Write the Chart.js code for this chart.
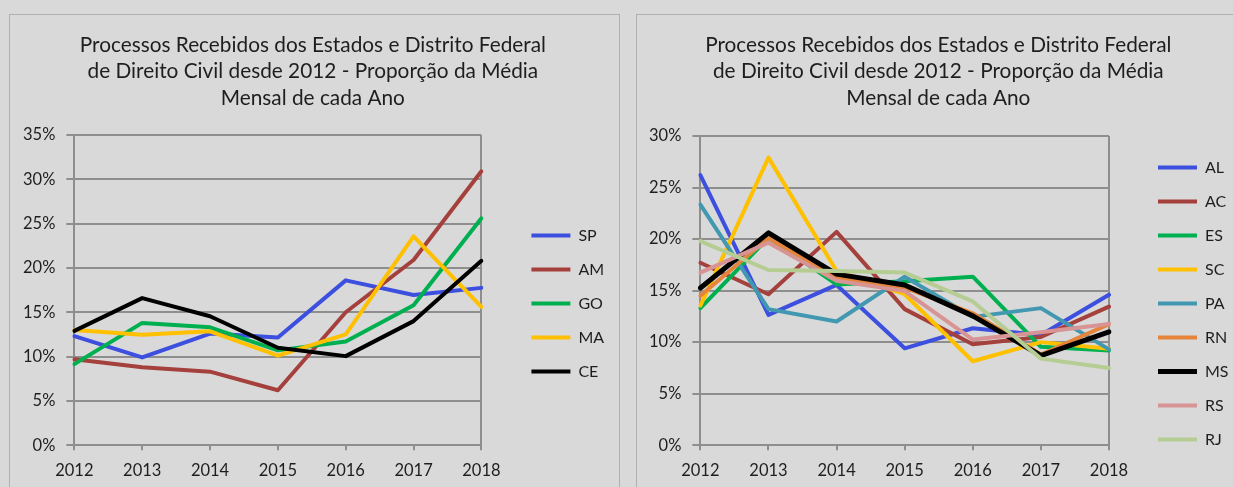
<!DOCTYPE html>
<html>
<head>
<meta charset="utf-8">
<title>Processos Recebidos - Direito Civil</title>
<script src="https://cdn.jsdelivr.net/npm/chart.js"></script>
<style>
    body {
        margin: 0;
        width: 1233px;
        height: 487px;
        overflow: hidden;
        background: #d9d9d9;
        position: relative;
    }
    .panel {
        position: absolute;
        top: 14px;
        width: 609px;
        height: 480px;
        border: 1px solid #b0b0b0;
    }
    #leftPanel { left: 9px; }
    #rightPanel { left: 636px; }
    canvas { display: block; }
</style>
</head>
<body>
<div class="panel" id="leftPanel"><canvas id="leftChart" width="609" height="477"></canvas></div>
<div class="panel" id="rightPanel"><canvas id="rightChart" width="609" height="477"></canvas></div>

<script>
    const years = ['2012', '2013', '2014', '2015', '2016', '2017', '2018'];
    const titleLines = [
        'Processos Recebidos dos Estados e Distrito Federal',
        'de Direito Civil desde 2012 - Proporção da Média',
        'Mensal de cada Ano'
    ];

    // left chart (values in %)
    const leftNames = ['SP', 'AM', 'GO', 'MA', 'CE'];
    const sp = [12.3, 9.9, 12.6, 12.15, 18.6, 16.95, 17.75];
    const am = [9.7, 8.8, 8.3, 6.2, 15.0, 20.9, 30.9];
    const go = [9.15, 13.8, 13.3, 10.7, 11.7, 15.8, 25.6];
    const ma = [13.0, 12.45, 12.85, 10.1, 12.5, 23.55, 15.6];
    const ce = [12.9, 16.6, 14.55, 11.0, 10.05, 14.0, 20.8];

    // right chart (values in %)
    const rightNames = ['AL', 'AC', 'ES', 'SC', 'PA', 'RN', 'MS', 'RS', 'RJ'];
    const al = [26.2, 12.65, 15.55, 9.4, 11.35, 10.7, 14.6];
    const ac = [17.7, 14.65, 20.7, 13.2, 9.8, 10.5, 13.45];
    const es = [13.3, 20.15, 15.6, 15.9, 16.35, 9.55, 9.2];
    const sc = [13.55, 27.9, 16.9, 14.65, 8.15, 10.0, 9.35];
    const pa = [23.35, 13.2, 12.0, 16.35, 12.45, 13.3, 9.3];
    const rn = [14.5, 20.1, 16.3, 15.3, 12.8, 8.8, 11.75];
    const ms = [15.25, 20.6, 16.6, 15.55, 12.55, 8.7, 11.0];
    const rs = [16.75, 19.65, 15.95, 14.95, 10.25, 10.95, 11.75];
    const rj = [19.8, 17.0, 16.9, 16.75, 13.95, 8.4, 7.5];

    const leftColors = ['#3c4fdf', '#a5413d', '#00b050', '#ffc000', '#000000'];
    const rightColors = ['#3c4fdf', '#a5413d', '#00b050', '#ffc000', '#4298b0',
                         '#e5853b', '#000000', '#d89494', '#b5cd93'];

    const fontFamily = 'Lato, "Open Sans", sans-serif';
    const textColor = '#1e1e1e';
    const gridColor = '#8e8e8e';
    const legendFontSize = 16;
    const tickFontSize = 16.5;

    // width of the widest legend label, used to keep the legend at the same x
    function maxTextWidth(names) {
        const c = document.createElement('canvas').getContext('2d');
        c.font = legendFontSize + 'px ' + fontFamily;
        return Math.max(...names.map(n => c.measureText(n).width));
    }

    function makeChart(canvasId, names, series, colors, yMax, opts) {
        const datasets = series.map((values, i) => ({
            label: names[i],
            data: values,
            borderColor: colors[i],
            backgroundColor: colors[i],
            borderWidth: (opts.thick && opts.thick === names[i]) ? 5 : 4,
            borderCapStyle: 'round',
            borderJoinStyle: 'round',
            pointRadius: 0,
            tension: 0,
            fill: false,
            order: -i   // later series on top, like the original
        }));

        const legendWidth = 18 + 39 + legendFontSize / 2 + maxTextWidth(names) + 8;
        const padRight = Math.max(0, 609 - 505 - legendWidth);

        return new Chart(document.getElementById(canvasId), {
            type: 'line',
            data: { labels: years, datasets: datasets },
            options: {
                responsive: false,
                animation: false,
                layout: { padding: { left: opts.padLeft, right: padRight, top: 0, bottom: 0 } },
                plugins: {
                    title: {
                        display: true,
                        text: titleLines,
                        color: textColor,
                        font: { family: fontFamily, size: 20.8, weight: 'normal', lineHeight: 1.274 },
                        padding: { top: 17, bottom: opts.titleBottom }
                    },
                    legend: {
                        position: 'right',
                        align: 'center',
                        title: {
                            display: true,
                            text: '',
                            font: { size: 10, lineHeight: 1.2 },
                            padding: { top: 44, bottom: 44 }
                        },
                        labels: {
                            usePointStyle: true,
                            pointStyle: 'line',
                            pointStyleWidth: 39,
                            padding: 18,
                            color: textColor,
                            font: { family: fontFamily, size: legendFontSize },
                            sort: (a, b) => a.datasetIndex - b.datasetIndex
                        }
                    },
                    tooltip: { enabled: false }
                },
                scales: {
                    x: {
                        grid: {
                            color: ctx => ctx.index === years.length - 1 ? gridColor : 'transparent',
                            tickColor: gridColor,
                            tickLength: 5,
                            lineWidth: 2
                        },
                        border: { color: gridColor, width: 2 },
                        ticks: {
                            color: textColor,
                            font: { family: fontFamily, size: tickFontSize },
                            padding: 11,
                            maxRotation: 0,
                            autoSkip: false
                        }
                    },
                    y: {
                        min: 0,
                        max: yMax,
                        grid: { color: gridColor, tickColor: gridColor, tickLength: 8, lineWidth: 2 },
                        border: { color: gridColor, width: 2 },
                        ticks: {
                            stepSize: 5,
                            color: textColor,
                            font: { family: fontFamily, size: tickFontSize },
                            padding: 11,
                            callback: v => v + '%'
                        }
                    },
                    // empty spacer between plot and legend
                    gap: {
                        type: 'linear',
                        position: 'right',
                        grid: { display: false, drawTicks: false },
                        border: { display: false },
                        ticks: { display: false },
                        afterFit: s => { s.width = opts.gap; }
                    }
                }
            }
        });
    }

    makeChart('leftChart', leftNames, [sp, am, go, ma, ce], leftColors, 35,
        { padLeft: 2, titleBottom: 23.5, gap: 32 });
    makeChart('rightChart', rightNames, [al, ac, es, sc, pa, rn, ms, rs, rj], rightColors, 30,
        { padLeft: 1, titleBottom: 24.5, gap: 31, thick: 'MS' });
</script>
</body>
</html>
